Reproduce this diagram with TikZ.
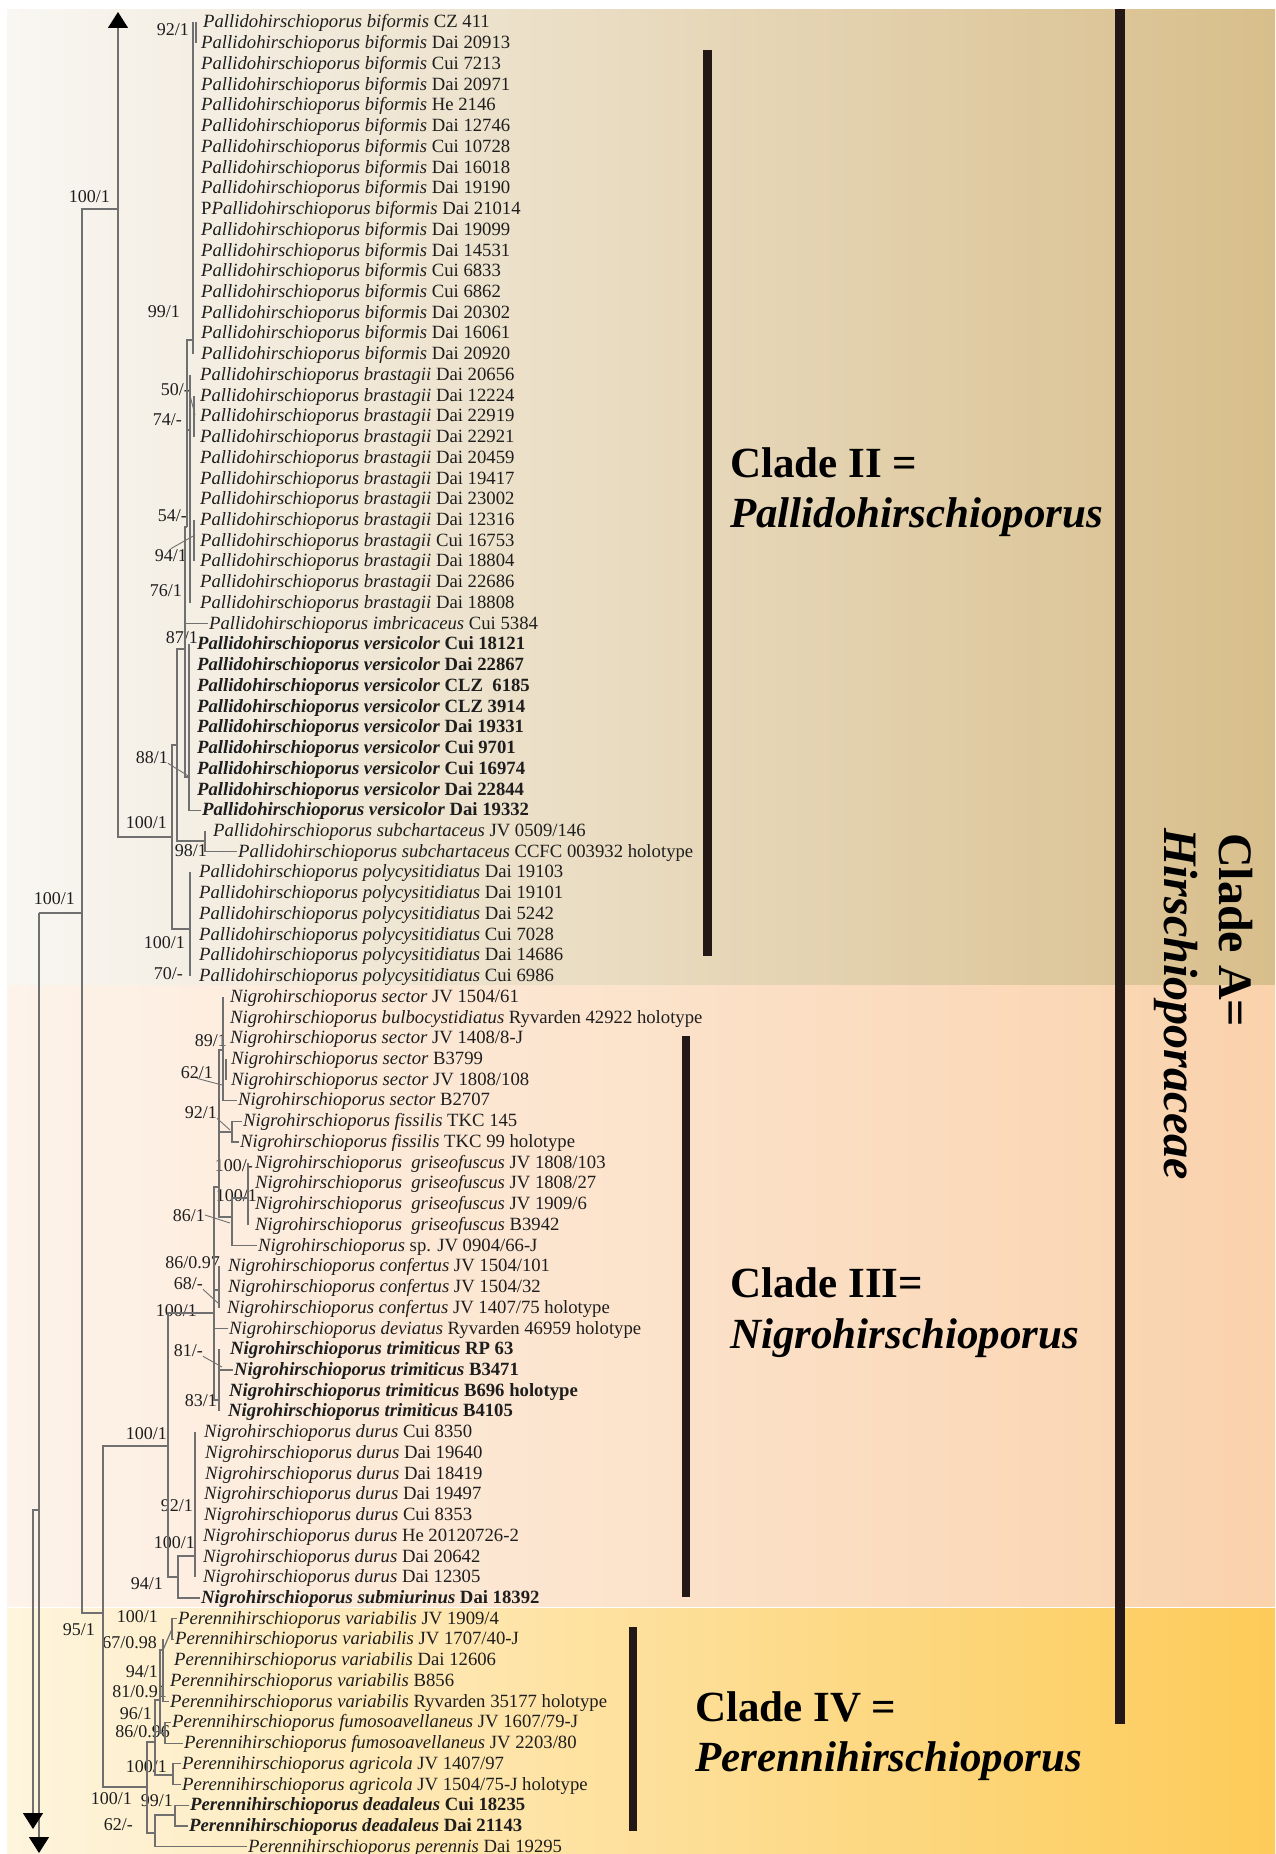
\documentclass[tikz,border=0pt]{standalone}
\usepackage{fontspec}
\setmainfont{Liberation Serif}
\usetikzlibrary{arrows.meta}
\definecolor{brgray}{RGB}{112,112,112}
\definecolor{barbrown}{RGB}{35,24,21}
\definecolor{txtgray}{RGB}{30,30,30}
\definecolor{bandIl}{RGB}{249,247,243}
\definecolor{bandIr}{RGB}{216,190,139}
\definecolor{bandIIl}{RGB}{253,243,234}
\definecolor{bandIIr}{RGB}{250,210,172}
\definecolor{bandIIIl}{RGB}{254,245,222}
\definecolor{bandIIIr}{RGB}{253,203,88}
\newcommand{\Pal}[1]{\textit{Pallidohirschioporus #1}}
\newcommand{\Nig}[1]{\textit{Nigrohirschioporus #1}}
\newcommand{\Per}[1]{\textit{Perennihirschioporus #1}}

\begin{document}
\begin{tikzpicture}[x=1pt,y=-1pt,
  branch/.style={draw=brgray,line width=1.2pt},
  lead/.style={draw=brgray,line width=0.9pt},
  tip/.style={-{Triangle[width=20pt,length=16pt,color=black]}},
  taxon/.style={anchor=west,inner xsep=1pt,inner ysep=0pt,text height=11pt,text depth=0pt,text=txtgray,font=\fontsize{18.7}{20}\selectfont},
  support/.style={anchor=east,inner sep=0pt,text height=12.2pt,text depth=0pt,text=txtgray,font=\fontsize{18}{20}\selectfont},
  clade/.style={anchor=base west,inner sep=0pt,font=\fontsize{43}{52}\selectfont\bfseries},
  bigclade/.style={anchor=base west,inner sep=0pt,rotate=-90,font=\fontsize{48}{56}\selectfont\bfseries},
  bar/.style={fill=barbrown}]

  \useasboundingbox (0,0) rectangle (1275,1854);
  \fill[white] (0,0) rectangle (1275,1854);
  \shade[left color=bandIl,right color=bandIr] (7,10) rectangle (1275,985);
  \shade[left color=bandIIl,right color=bandIIr] (7,985) rectangle (1275,1606);
  \shade[left color=bandIIIl,right color=bandIIIr] (7,1608) rectangle (1275,1854);

  \fill[bar] (703,50) rectangle (712,956);
  \fill[bar] (1115,9) rectangle (1125,1724);
  \fill[bar] (682,1036) rectangle (690,1597);
  \fill[bar] (629,1627) rectangle (637,1831);

  \foreach \i/\x/\t in {
    1/203/{\Pal{biformis} CZ 411}, 2/201/{\Pal{biformis} Dai 20913},
    3/201/{\Pal{biformis} Cui 7213}, 4/201/{\Pal{biformis} Dai 20971},
    5/201/{\Pal{biformis} He 2146}, 6/201/{\Pal{biformis} Dai 12746},
    7/201/{\Pal{biformis} Cui 10728}, 8/201/{\Pal{biformis} Dai 16018},
    9/201/{\Pal{biformis} Dai 19190}, 10/201/{P\Pal{biformis} Dai 21014},
    11/201/{\Pal{biformis} Dai 19099}, 12/201/{\Pal{biformis} Dai 14531},
    13/201/{\Pal{biformis} Cui 6833}, 14/201/{\Pal{biformis} Cui 6862},
    15/201/{\Pal{biformis} Dai 20302}, 16/201/{\Pal{biformis} Dai 16061},
    17/201/{\Pal{biformis} Dai 20920}, 18/200/{\Pal{brastagii} Dai 20656},
    19/200/{\Pal{brastagii} Dai 12224}, 20/200/{\Pal{brastagii} Dai 22919},
    21/200/{\Pal{brastagii} Dai 22921}, 22/200/{\Pal{brastagii} Dai 20459},
    23/200/{\Pal{brastagii} Dai 19417}, 24/200/{\Pal{brastagii} Dai 23002},
    25/200/{\Pal{brastagii} Dai 12316}, 26/200/{\Pal{brastagii} Cui 16753},
    27/200/{\Pal{brastagii} Dai 18804}, 28/200/{\Pal{brastagii} Dai 22686},
    29/200/{\Pal{brastagii} Dai 18808}, 30/209/{\Pal{imbricaceus} Cui 5384},
    31/197/{\textbf{\Pal{versicolor} Cui 18121}}, 32/197/{\textbf{\Pal{versicolor} Dai 22867}},
    33/197/{\textbf{\Pal{versicolor} CLZ~~6185}}, 34/197/{\textbf{\Pal{versicolor} CLZ 3914}},
    35/197/{\textbf{\Pal{versicolor} Dai 19331}}, 36/197/{\textbf{\Pal{versicolor} Cui 9701}},
    37/197/{\textbf{\Pal{versicolor} Cui 16974}}, 38/197/{\textbf{\Pal{versicolor} Dai 22844}},
    39/202/{\textbf{\Pal{versicolor} Dai 19332}}, 40/213/{\Pal{subchartaceus} JV 0509/146},
    41/238/{\Pal{subchartaceus} CCFC 003932 holotype}, 42/199/{\Pal{polycysitidiatus} Dai 19103},
    43/199/{\Pal{polycysitidiatus} Dai 19101}, 44/199/{\Pal{polycysitidiatus} Dai 5242},
    45/199/{\Pal{polycysitidiatus} Cui 7028}, 46/199/{\Pal{polycysitidiatus} Dai 14686},
    47/199/{\Pal{polycysitidiatus} Cui 6986}, 48/230/{\Nig{sector} JV 1504/61},
    49/230/{\Nig{bulbocystidiatus} Ryvarden 42922 holotype}, 50/230/{\Nig{sector} JV 1408/8-J},
    51/231/{\Nig{sector} B3799}, 52/231/{\Nig{sector} JV 1808/108},
    53/238/{\Nig{sector} B2707}, 54/243/{\Nig{fissilis} TKC 145},
    55/240/{\Nig{fissilis} TKC 99 holotype}, 56/255/{\Nig{\ griseofuscus} JV 1808/103},
    57/255/{\Nig{\ griseofuscus} JV 1808/27}, 58/255/{\Nig{\ griseofuscus} JV 1909/6},
    59/255/{\Nig{\ griseofuscus} B3942}, 60/258/{\textit{Nigrohirschioporus} sp. JV 0904/66-J},
    61/228/{\Nig{confertus} JV 1504/101}, 62/228/{\Nig{confertus} JV 1504/32},
    63/227/{\Nig{confertus} JV 1407/75 holotype}, 64/229/{\Nig{deviatus} Ryvarden 46959 holotype},
    65/230/{\textbf{\Nig{trimiticus} RP 63}}, 66/234/{\textbf{\Nig{trimiticus} B3471}},
    67/229/{\textbf{\Nig{trimiticus} B696 holotype}}, 68/228/{\textbf{\Nig{trimiticus} B4105}},
    69/204/{\Nig{durus} Cui 8350}, 70/205/{\Nig{durus} Dai 19640},
    71/205/{\Nig{durus} Dai 18419}, 72/204/{\Nig{durus} Dai 19497},
    73/204/{\Nig{durus} Cui 8353}, 74/203/{\Nig{durus} He 20120726-2},
    75/203/{\Nig{durus} Dai 20642}, 76/203/{\Nig{durus} Dai 12305},
    77/201/{\textbf{\Nig{submiurinus} Dai 18392}}, 78/178/{\Per{variabilis} JV 1909/4},
    79/175/{\Per{variabilis} JV 1707/40-J}, 80/174/{\Per{variabilis} Dai 12606},
    81/170/{\Per{variabilis} B856}, 82/170/{\Per{variabilis} Ryvarden 35177 holotype},
    83/172/{\Per{fumosoavellaneus} JV 1607/79-J}, 84/184/{\Per{fumosoavellaneus} JV 2203/80},
    85/182/{\Per{agricola} JV 1407/97}, 86/182/{\Per{agricola} JV 1504/75-J holotype},
    87/190/{\textbf{\Per{deadaleus} Cui 18235}}, 88/189/{\textbf{\Per{deadaleus} Dai 21143}},
    89/248/{\Per{perennis} Dai 19295}}
    \node[taxon] (t\i) at ({\x-1},{22.5+(\i-1)*20.73}) {\t};

  \foreach \n/\x/\y/\t in {
    1/189/29/{92/1}, 2/110/196/{100/1}, 3/180/311/{99/1}, 4/190/389/{50/-},
    5/182/419/{74/-}, 6/187/515/{54/-}, 7/187/555/{94/1}, 8/182/590/{76/1},
    9/198/637/{87/1}, 10/168/757/{88/1}, 11/167/822/{100/1}, 12/207/850/{98/1},
    13/75/898/{100/1}, 14/185/942/{100/1}, 15/183/973/{70/-}, 16/227/1040/{89/1},
    17/213/1072/{62/1}, 18/217/1112/{92/1}, 19/253/1165/{100/-}, 20/257/1195/{100/1},
    21/205/1215/{86/1}, 22/220/1262/{86/0.97}, 23/203/1283/{68/-}, 24/197/1310/{100/1},
    25/203/1350/{81/-}, 26/217/1400/{83/1}, 27/167/1433/{100/1}, 28/193/1505/{92/1},
    29/195/1542/{100/1}, 30/163/1583/{94/1}, 31/158/1616/{100/1}, 32/95/1629/{95/1},
    33/157/1642/{67/0.98}, 34/158/1671/{94/1}, 35/167/1691/{81/0.91}, 36/152/1713/{96/1},
    37/170/1731/{86/0.96}, 38/167/1766/{100/1}, 39/132/1798/{100/1}, 40/173/1800/{99/1},
    41/133/1824/{62/-}}
    \node[support] (s\n) at (\x,\y) {\t};

  \coordinate (rA) at (39,913);
  \coordinate (rB) at (39,1510);
  \coordinate (dnA) at (33,1829);
  \coordinate (dnB) at (39,1853);
  \coordinate (up) at (118,12);
  \coordinate (nB) at (82,913);
  \coordinate (nC) at (118,209);
  \coordinate (nD) at (103,1613);

  \coordinate (pBif) at (193,340);
  \coordinate (pB92) at (196,33);
  \coordinate (pBra) at (190,430);
  \coordinate (pB50) at (194,400);
  \coordinate (pB54) at (194,530);
  \coordinate (pUp) at (187,527);
  \coordinate (pA) at (185,649);
  \coordinate (pVer) at (189,777);
  \coordinate (pS) at (177,745);
  \coordinate (pSub) at (205,841);
  \coordinate (pal) at (172,837);
  \coordinate (pPoly) at (190,929);

  \coordinate (nSecA) at (223,1050);
  \coordinate (nS62) at (226,1070);
  \coordinate (nFis) at (232,1132);
  \coordinate (nGri) at (248,1198);
  \coordinate (nGS) at (232,1217);
  \coordinate (nSec) at (219,1187);
  \coordinate (nConf) at (219,1290);
  \coordinate (nTri) at (219,1400);
  \coordinate (nN1) at (214,1313);
  \coordinate (nDur) at (195,1556);
  \coordinate (nD2) at (178,1577);
  \coordinate (nNig) at (168,1446);

  \coordinate (pPer) at (147,1787);
  \coordinate (pP1) at (155,1742);
  \coordinate (pP2) at (155,1833);
  \coordinate (pDea) at (175,1815);
  \coordinate (pVF) at (160,1700);
  \coordinate (pVar) at (163,1650);
  \coordinate (pV100) at (172,1629);
  \coordinate (pFum) at (165,1733);
  \coordinate (pAgr) at (173,1775);

  \draw[branch,tip] (nC) -- (up);
  \draw[branch,tip] (rA) -- (dnB);
  \draw[branch,tip] (rB) -| (dnA);
  \draw[branch] (rA) -- (nB);
  \draw[branch] (nB) |- (nC) (nB) |- (nD);
  \draw[branch] (nC) |- (pal);
  \draw[branch] (nD) |- (nNig) (nD) |- (pPer);

  \draw[branch] (pBif |- t1.west) -- (pBif |- t17.west);
  \draw[branch] (pB92 |- t1.west) -- (pB92 |- t2.west);
  \draw[branch] (pBra |- t18.west) -- (pBra |- t29.west);
  \draw[branch] (pB50 |- t19.west) -- (pB50 |- t21.west);
  \draw[branch] (pB54 |- t25.west) -- (pB54 |- t27.west);
  \draw[branch] (pUp) |- (pBif) (pUp) |- (pBra);
  \draw[branch] (pA) |- (pUp) (pA) |- (t30.west) (pA) |- (pVer);
  \draw[branch] (pVer |- t31.west) -- (pVer |- t39.west) -- (t39.west);
  \draw[branch] (pS) |- (pA) (pS) |- (pSub);
  \draw[branch] (pSub |- t40.west) -- (pSub |- t41.west) -- (t41.west);
  \draw[branch] (pal) |- (pS) (pal) |- (pPoly);
  \draw[branch] (pPoly |- t42.west) -- (pPoly |- t47.west);

  \draw[branch] (nSecA |- t48.west) -- (nSecA |- t53.west) -- (t53.west);
  \draw[branch] (nS62 |- t51.west) -- (nS62 |- t52.west);
  \draw[branch] (nFis) |- (t54.west) (nFis) |- (t55.west);
  \draw[branch] (nGri |- t56.west) -- (nGri |- t59.west);
  \draw[branch] (nGS) |- (nGri) (nGS) |- (t60.west);
  \draw[branch] (nSec) |- (nSecA) (nSec) |- (nFis) (nSec) |- (nGS);
  \draw[branch] (nConf |- t61.west) -- (nConf |- t63.west);
  \draw[branch] (nTri |- t65.west) -- (nTri |- t68.west);
  \draw[branch] (nTri |- t66.west) -- (t66.west);
  \draw[branch] (nN1) |- (nSec) (nN1) |- (nConf) (nN1) |- (t64.west) (nN1) |- (nTri);
  \draw[branch] (nDur |- t69.west) -- (nDur |- t76.west);
  \draw[branch] (nD2) |- (nDur) (nD2) |- (t77.west);
  \draw[branch] (nNig) |- (nN1) (nNig) |- (nD2);

  \draw[branch] (pV100) |- (t78.west) (pV100) |- (t79.west);
  \draw[branch] (pVar |- t79.west) -- (pVar |- t82.west) -- (t82.west);
  \draw[branch] (pVar) -- (pV100);
  \draw[branch] (pFum) |- (t83.west) (pFum) |- (t84.west);
  \draw[branch] (pVF) |- (pVar) (pVF) |- (pFum);
  \draw[branch] (pAgr) |- (t85.west) (pAgr) |- (t86.west);
  \draw[branch] (pP1) |- (pVF) (pP1) |- (pAgr);
  \draw[branch] (pDea) |- (t87.west) (pDea) |- (t88.west);
  \draw[branch] (pP2) |- (pDea) (pP2) |- (t89.west);
  \draw[branch] (pPer) |- (pP1) (pPer) |- (pP2);

  \coordinate (k4) at (195,415);
  \coordinate (k7) at (195,535);
  \coordinate (k10) at (190,777);
  \coordinate (k17) at (222,1085);
  \coordinate (k18) at (230,1130);
  \coordinate (k21) at (230,1223);
  \coordinate (k23) at (218,1303);
  \coordinate (k25) at (222,1367);
  \draw[lead] (s4.south east) -- (k4);
  \draw[lead] (s7.north) -- (k7);
  \draw[lead] (s10.south east) -- (k10);
  \draw[lead] (s17.south) -- (k17);
  \draw[lead] (s18.south east) -- (k18);
  \draw[lead] (s21.east) -- (k21);
  \draw[lead] (s23.south east) -- (k23);
  \draw[lead] (s25.south east) -- (k25);

  \node[clade] (c2a) at (730,477) {Clade II =};
  \node[clade] (c2b) at ([yshift=-50pt]c2a.base west) {\itshape Pallidohirschioporus};
  \node[clade] (c3a) at (730,1297) {Clade III=};
  \node[clade] (c3b) at ([yshift=-51pt]c3a.base west) {\itshape Nigrohirschioporus};
  \node[clade] (c4a) at (695,1721) {Clade IV =};
  \node[clade] (c4b) at ([yshift=-50pt]c4a.base west) {\itshape Perennihirschioporus};
  \node[bigclade] (cA) at (1219,833) {Clade A=};
  \node[bigclade] (hA) at (1164,828) {\itshape Hirschioporaceae};
\end{tikzpicture}
\end{document}
